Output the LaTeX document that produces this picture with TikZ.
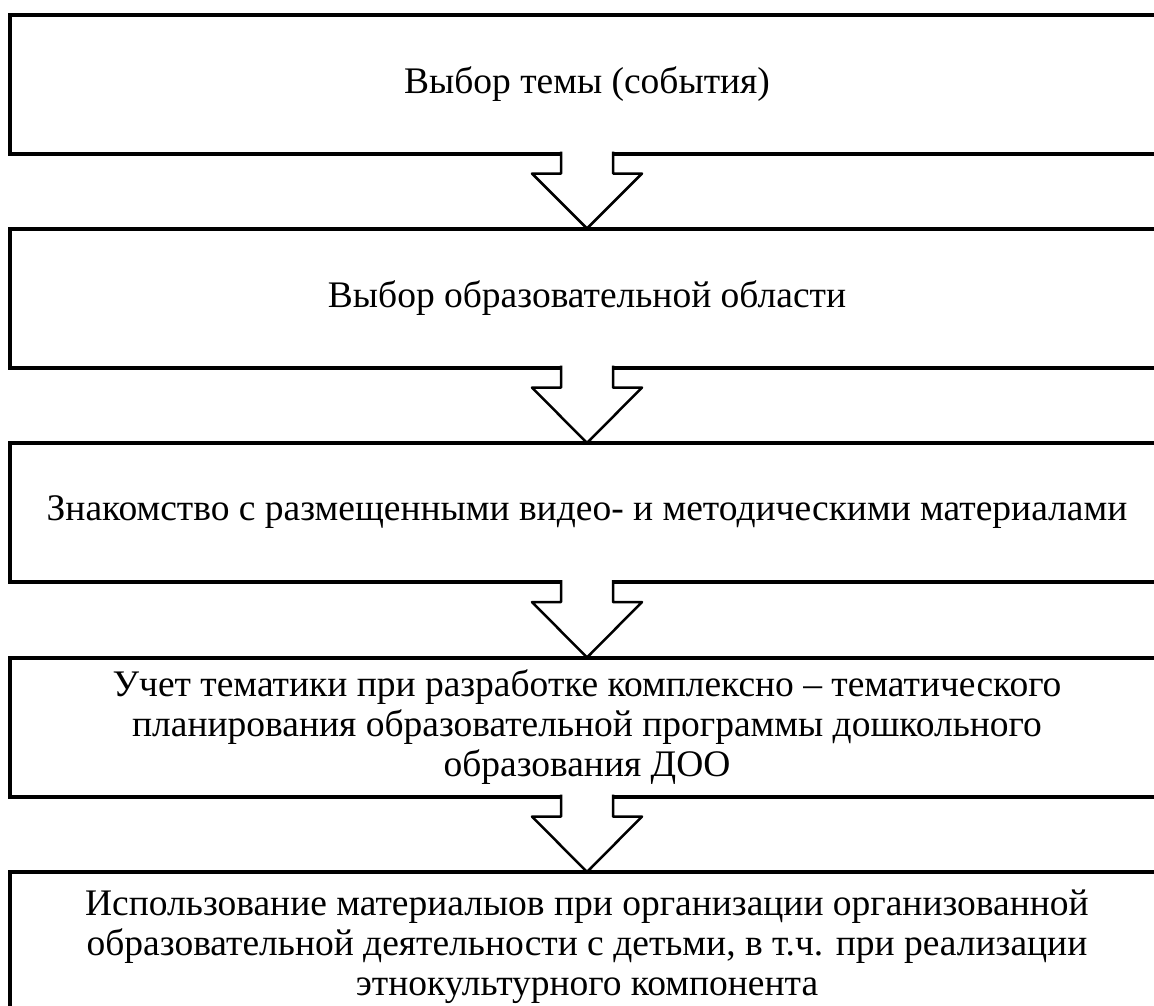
\documentclass[tikz,border=0pt]{standalone}
\usepackage{fontspec}
\setmainfont{Liberation Serif}
\usetikzlibrary{calc}

\tikzset{
  stage/.style={draw, rectangle, line width=4pt, outer sep=0pt, inner sep=0pt,
    minimum width=1154pt, minimum height=139pt, align=center,
    font=\fontsize{37.5}{40}\selectfont},
  flowarrow/.style={line width=2.5pt, fill=white, line join=round},
}

% block arrow from the bottom of one stage to the top of the next
\newcommand{\stagearrow}[2]{%
  \filldraw[flowarrow]
    ($(#1.south)+(-26,-2)$) -- ($(#1.south)+(-26,20)$) -- ($(#1.south)+(-55,20)$)
    -- (#2.north)
    -- ($(#1.south)+(55,20)$) -- ($(#1.south)+(26,20)$) -- ($(#1.south)+(26,-2)$);}

\begin{document}
\begin{tikzpicture}[x=1pt, y=-1pt]
      \useasboundingbox (0,0) rectangle (1154,1005);
      \clip (0,0) rectangle (1154,1005);
      \node[stage] (theme) at (587,84) {Выбор темы (события)};
      \node[stage] (area) at (587,298) {Выбор образовательной области};
      \node[stage] (review) at (587,512.5) {Знакомство с размещенными видео- и методическими материалами};
      \node[stage] (plan) at (587,727) {Учет тематики при разработке комплексно – тематического\\
        планирования образовательной программы дошкольного\\ образования ДОО};
      \node[stage, minimum height=150pt] (use) at (587,947) {Использование материалыов при организации организованной\\
        образовательной деятельности с детьми, в т.ч. при реализации\\ этнокультурного компонента};
      \stagearrow{theme}{area}
      \stagearrow{area}{review}
      \stagearrow{review}{plan}
      \stagearrow{plan}{use}
    \end{tikzpicture}
\end{document}
